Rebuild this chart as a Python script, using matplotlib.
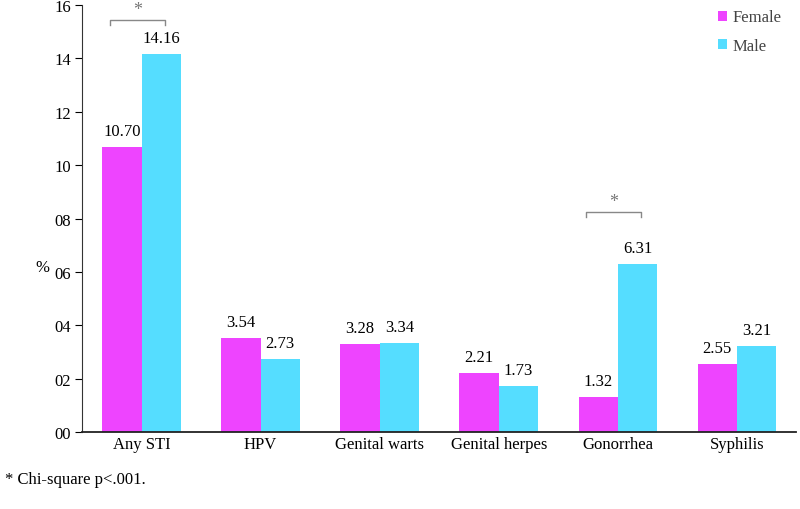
import matplotlib.pyplot as plt
import numpy as np

categories = ["Any STI", "HPV", "Genital warts", "Genital herpes", "Gonorrhea", "Syphilis"]
female = [10.70, 3.54, 3.28, 2.21, 1.32, 2.55]
male = [14.16, 2.73, 3.34, 1.73, 6.31, 3.21]
yticks = [0, 2, 4, 6, 8, 10, 12, 14, 16]
ytick_labels = ["00", "02", "04", "06", "08", "10", "12", "14", "16"]
sig_idx = [0, 4]

plt.rcParams['font.family'] = ['Liberation Serif', 'DejaVu Serif']

fig = plt.figure(figsize=(8, 5.1), dpi=100)
ax = fig.add_axes([0.1025, 0.151, 0.893, 0.837])

c_f = "#EE44FF"
c_m = "#55DDFF"
x = np.arange(len(categories))
w = 0.33
ax.bar(x - w/2, female, w, color=c_f, label="Female")
ax.bar(x + w/2, male, w, color=c_m, label="Male")

fs = 12
for i in range(len(categories)):
    ax.text(x[i] - w/2, female[i] + 0.3, f"{female[i]:.2f}", ha="center", va="bottom", fontsize=fs)
    ax.text(x[i] + w/2, male[i] + 0.3, f"{male[i]:.2f}", ha="center", va="bottom", fontsize=fs)

bracket_gap = {0: 1.3, 4: 1.95}
for i in sig_idx:
    top = max(female[i], male[i]) + bracket_gap[i]
    x0, x1 = x[i] - w/2 - 0.1, x[i] + w/2 + 0.03
    ax.plot([x0, x0, x1, x1], [top - 0.2, top, top, top - 0.2], color="#888888", lw=1)
    ax.text((x0 + x1) / 2, top + 0.05, "*", ha="center", va="bottom", fontsize=13, color="#777777")

ax.set_xlim(-0.5, len(categories) - 0.5)
ax.set_ylim(0, 16)
ax.set_yticks(yticks)
ax.set_yticklabels(ytick_labels, fontsize=fs)
ax.set_xticks(x)
ax.set_xticklabels(categories, fontsize=fs)
ax.tick_params(axis="x", length=0, pad=3)
ax.tick_params(axis="y", direction="out", length=5, pad=3)
for s in ["top", "right"]:
    ax.spines[s].set_visible(False)
ax.spines["left"].set_color("#333333")
ax.spines["bottom"].set_color("#222222")
ax.spines["bottom"].set_linewidth(1.3)

leg = ax.legend(loc="upper right", bbox_to_anchor=(1.0, 1.025), frameon=False, fontsize=fs,
                handlelength=0.55, handleheight=0.55, handletextpad=0.3, labelspacing=0.75)
for t in leg.get_texts():
    t.set_color("#444444")

fig.text(0.044, 0.475, "%", fontsize=fs, ha="left", va="center")
fig.text(0.006, 0.058, "* Chi-square p<.001.", fontsize=fs, ha="left", va="center")

fig.savefig("out.png", dpi=100)
